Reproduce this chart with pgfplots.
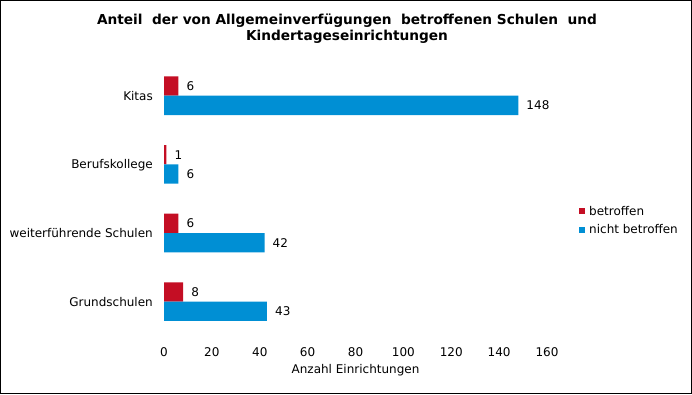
\documentclass[border=0pt]{standalone}
\usepackage{fontspec}
\setmainfont{DejaVu Sans}
\usepackage{pgfplots}
\pgfplotsset{compat=1.18}
\definecolor{bred}{RGB}{196,14,36}
\definecolor{bblue}{RGB}{0,143,212}
\newcommand\lblfont{\fontsize{12bp}{14bp}\selectfont}
\begin{document}
\begin{tikzpicture}[x=1bp,y=1bp]
\useasboundingbox (0,0) rectangle (692,394);
\draw[line width=1bp] (0.5,0.5) rectangle (691.5,393.5);
\node[font=\bfseries\fontsize{13.7bp}{16bp}\selectfont, anchor=base, inner sep=0pt] at (347,370) {Anteil\ \ der von Allgemeinverfügungen\ \ betroffenen Schulen\ \ und};
\node[font=\bfseries\fontsize{13.7bp}{16bp}\selectfont, anchor=base, inner sep=0pt] at (347,354) {Kindertageseinrichtungen};
\begin{axis}[
  at={(164bp,58bp)}, anchor=south west,
  scale only axis, width=383bp, height=274.6bp,
  xmin=0, xmax=160, ymin=-0.5, ymax=3.5,
  xtick={0,20,...,160}, ytick={0,1,2,3},
  yticklabels={Grundschulen, weiterführende Schulen, Berufskollege, Kitas},
  axis line style={draw=none}, major tick style={draw=none}, major tick length=0pt,
  tick label style={font=\lblfont, /pgf/number format/assume math mode=true, inner sep=0pt},
  xticklabel style={anchor=base, yshift=-20bp},
  yticklabel style={anchor=base east, xshift=-11bp, yshift=-4.4bp},
  xlabel={Anzahl Einrichtungen},
  xlabel style={at={(axis description cs:0.5,0)}, anchor=base, yshift=-37.3bp, inner sep=0pt, font=\lblfont},
  xbar, bar width=19.3bp,
  nodes near coords,
  nodes near coords style={anchor=west, inner sep=0pt, xshift=8bp, font=\lblfont, /pgf/number format/assume math mode=true},
  legend style={at={(axis description cs:1,0.4206)}, anchor=west, xshift=32bp, draw=none, fill=none, inner sep=0pt, font=\lblfont, row sep=8bp, cells={anchor=west}, nodes={inner xsep=4bp, inner ysep=0pt}},
  legend image code/.code={\fill[#1] (0bp,-3bp) rectangle (6bp,3bp);},
  clip=false,
]
\addplot[fill=bred, draw=none, bar shift=9.65bp] coordinates {(8,0) (6,1) (1,2) (6,3)};
\addplot[fill=bblue, draw=none, bar shift=-9.65bp] coordinates {(43,0) (42,1) (6,2) (148,3)};
\legend{betroffen, nicht betroffen}
\end{axis}
\end{tikzpicture}
\end{document}
